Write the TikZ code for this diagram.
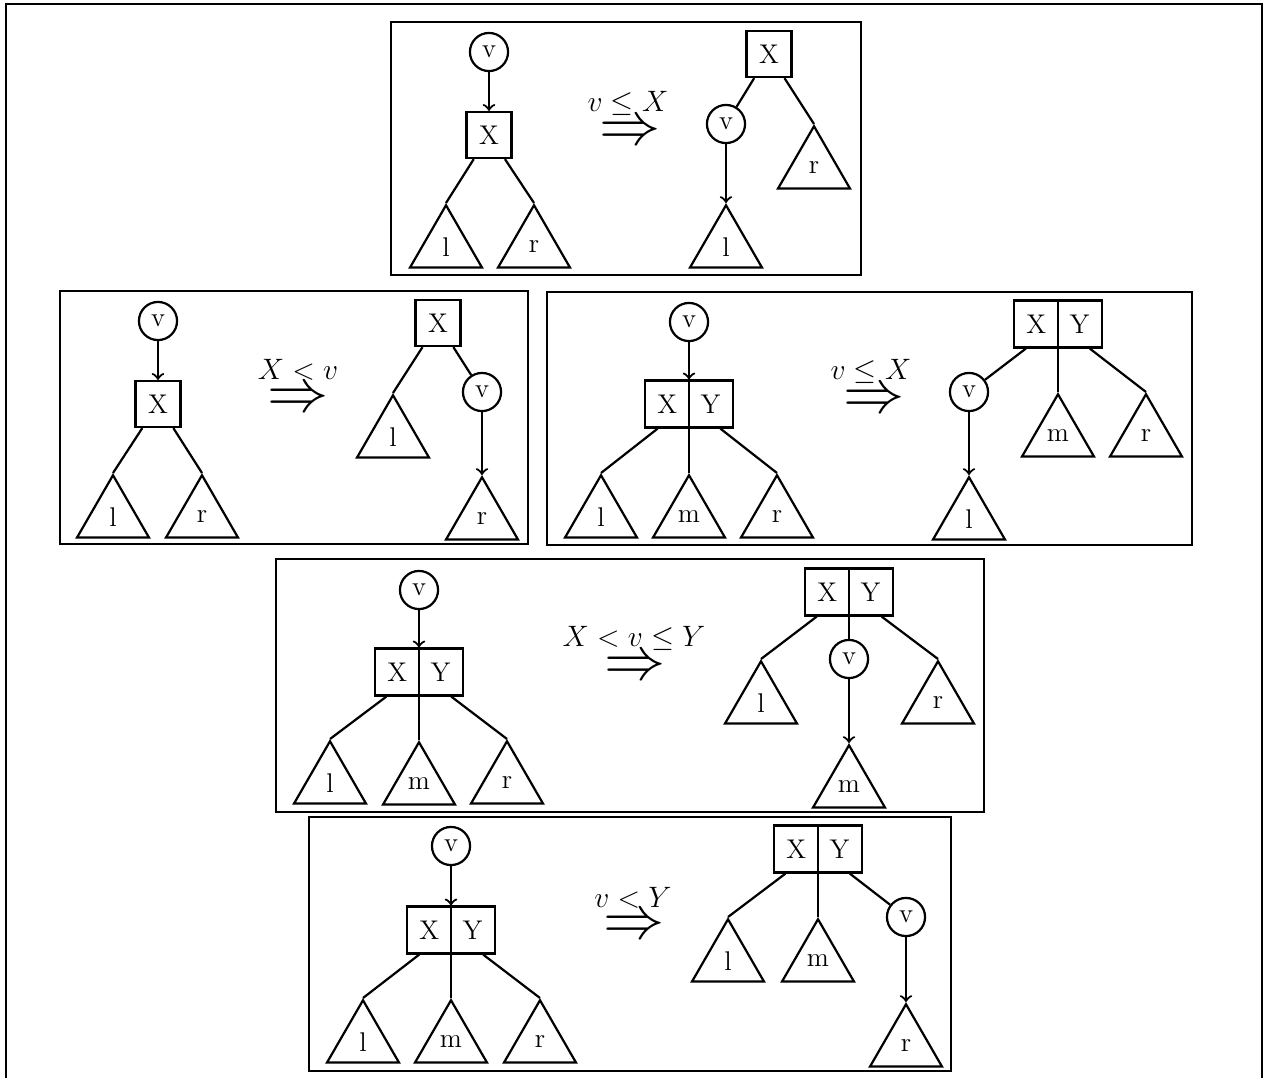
\documentclass[tikz,border=0pt]{standalone}
\usetikzlibrary{shapes.geometric}
\begin{document}
\begin{tikzpicture}[
    x=0.4066pt, y=-0.4066pt,
    line width=0.9pt,
    every node/.style={font=\fontsize{11}{13}\selectfont},
    vnode/.style={circle, draw, minimum size=15.5pt, inner sep=0pt},
    onekey/.style={rectangle, draw, minimum width=18.3pt, minimum height=18.7pt, inner sep=0pt},
    twokey/.style={rectangle, draw, minimum width=35.8pt, minimum height=19.1pt, inner sep=0pt},
    subtree/.style={regular polygon, regular polygon sides=3, draw, minimum size=33.8pt, inner sep=0pt, anchor=north},
    panel/.style={line width=1.1pt},
    rule/.style={font=\Huge, inner sep=0pt},
    cond/.style={font=\large, inner sep=1pt}
]
\useasboundingbox (0,0) rectangle (1265,1078);

% Outer frame
\draw[line width=1.2pt] (6,1078) -- (6,4) -- (1262,4) -- (1262,1078);

% Panels
\draw[panel] (391,22) rectangle (861,275);
\draw[panel] (60,291) rectangle (528,544);
\draw[panel] (547,292) rectangle (1192,545);
\draw[panel] (276,559) rectangle (984,812);
\draw[panel] (309,817) rectangle (951,1071);

%%% Panel 1: insert below a single key, v <= X
\node[vnode] (v1a) at (489,52) {v};
\node[onekey] (k1a) at (489,135) {X};
\node[subtree] (l1a) at (446,203) {l};
\node[subtree] (r1a) at (534,203) {r};
\draw[->] (v1a) -- (k1a);
\draw (k1a) -- (l1a.north);
\draw (k1a) -- (r1a.north);

\node[rule] (t1) at (630,133) {$\Rightarrow$};
\node[cond] (c1) at (628,103) {$v \leq X$};

\node[onekey] (k1b) at (769,54) {X};
\node[vnode] (v1b) at (726,124) {v};
\node[subtree] (r1b) at (814,124) {r};
\node[subtree] (l1b) at (726,203) {l};
\draw (k1b) -- (v1b);
\draw (k1b) -- (r1b.north);
\draw[->] (v1b) -- (l1b.north);

%%% Panel 2: single key, X < v
\node[vnode] (v2a) at (158,321) {v};
\node[onekey] (k2a) at (158,404) {X};
\node[subtree] (l2a) at (113,473) {l};
\node[subtree] (r2a) at (202,473) {r};
\draw[->] (v2a) -- (k2a);
\draw (k2a) -- (l2a.north);
\draw (k2a) -- (r2a.north);

\node[rule] (t2) at (298,400) {$\Rightarrow$};
\node[cond] (c2) at (298,370) {$X < v$};

\node[onekey] (k2b) at (438,323) {X};
\node[subtree] (l2b) at (393,393) {l};
\node[vnode] (v2b) at (482,392) {v};
\node[subtree] (r2b) at (482,475) {r};
\draw (k2b) -- (l2b.north);
\draw (k2b) -- (v2b);
\draw[->] (v2b) -- (r2b.north);

%%% Panel 3: two keys, v <= X
\node[vnode] (v3a) at (689,322) {v};
\node[twokey] (k3a) at (689,404) {X\hspace{9.5pt}Y};
\draw (k3a.north) -- (k3a.south);
\node[subtree] (l3a) at (601,473) {l};
\node[subtree] (m3a) at (689,473) {m};
\node[subtree] (r3a) at (777,473) {r};
\draw[->] (v3a) -- (k3a);
\draw (k3a) -- (l3a.north);
\draw (k3a) -- (m3a.north);
\draw (k3a) -- (r3a.north);

\node[rule] (t3) at (874,401) {$\Rightarrow$};
\node[cond] (c3) at (871,371) {$v \leq X$};

\node[twokey] (k3b) at (1058,324) {X\hspace{9.5pt}Y};
\draw (k3b.north) -- (k3b.south);
\node[vnode] (v3b) at (969,392) {v};
\node[subtree] (m3b) at (1058,392) {m};
\node[subtree] (r3b) at (1146,392) {r};
\node[subtree] (l3b) at (969,475) {l};
\draw (k3b) -- (v3b);
\draw (k3b) -- (m3b.north);
\draw (k3b) -- (r3b.north);
\draw[->] (v3b) -- (l3b.north);

%%% Panel 4: two keys, X < v <= Y
\node[vnode] (v4a) at (419,590) {v};
\node[twokey] (k4a) at (419,672) {X\hspace{9.5pt}Y};
\draw (k4a.north) -- (k4a.south);
\node[subtree] (l4a) at (330,739) {l};
\node[subtree] (m4a) at (419,740) {m};
\node[subtree] (r4a) at (507,739) {r};
\draw[->] (v4a) -- (k4a);
\draw (k4a) -- (l4a.north);
\draw (k4a) -- (m4a.north);
\draw (k4a) -- (r4a.north);

\node[rule] (t4) at (635,668) {$\Rightarrow$};
\node[cond] (c4) at (634,638) {$X < v \leq Y$};

\node[twokey] (k4b) at (849,592) {X\hspace{9.5pt}Y};
\draw (k4b.north) -- (k4b.south);
\node[subtree] (l4b) at (761,659) {l};
\node[vnode] (v4b) at (849,659) {v};
\node[subtree] (r4b) at (938,659) {r};
\node[subtree] (m4b) at (849,743) {m};
\draw (k4b) -- (l4b.north);
\draw (k4b) -- (v4b);
\draw (k4b) -- (r4b.north);
\draw[->] (v4b) -- (m4b.north);

%%% Panel 5: two keys, v < Y
\node[vnode] (v5a) at (451,846) {v};
\node[twokey] (k5a) at (451,930) {X\hspace{9.5pt}Y};
\draw (k5a.north) -- (k5a.south);
\node[subtree] (l5a) at (363,998) {l};
\node[subtree] (m5a) at (451,998) {m};
\node[subtree] (r5a) at (540,998) {r};
\draw[->] (v5a) -- (k5a);
\draw (k5a) -- (l5a.north);
\draw (k5a) -- (m5a.north);
\draw (k5a) -- (r5a.north);

\node[rule] (t5) at (634,927) {$\Rightarrow$};
\node[cond] (c5) at (633,898) {$v < Y$};

\node[twokey] (k5b) at (818,849) {X\hspace{9.5pt}Y};
\draw (k5b.north) -- (k5b.south);
\node[subtree] (l5b) at (728,917) {l};
\node[subtree] (m5b) at (818,917) {m};
\node[vnode] (v5b) at (906,917) {v};
\node[subtree] (r5b) at (906,1002) {r};
\draw (k5b) -- (l5b.north);
\draw (k5b) -- (m5b.north);
\draw (k5b) -- (v5b);
\draw[->] (v5b) -- (r5b.north);

\end{tikzpicture}
\end{document}
